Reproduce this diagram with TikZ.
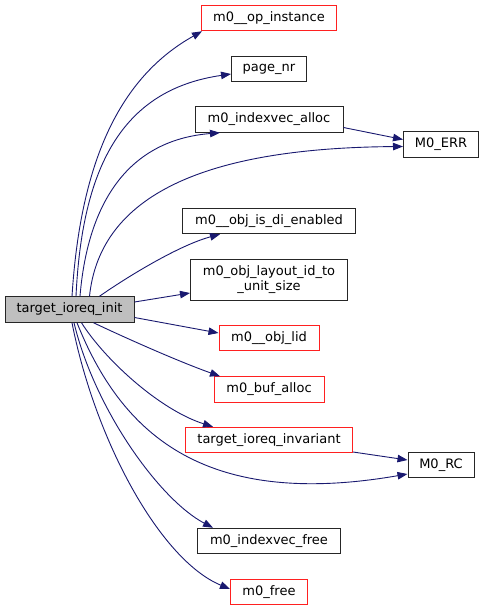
\documentclass[tikz,border=0pt]{standalone}
\usepackage{fontspec}
\setmainfont{DejaVu Sans}
\usepackage{xcolor}
\usetikzlibrary{arrows.meta}
\definecolor{edgeblue}{HTML}{191970}
\definecolor{boxgrey}{HTML}{BFBFBF}
\definecolor{boxred}{HTML}{FF2020}

\tikzset{
  fn/.style={draw=black!85, line width=1pt, fill=white, minimum height=25.5pt,
             inner sep=0pt, font=\fontsize{13}{15}\selectfont},
  fnred/.style={fn, draw=boxred},
  fnmain/.style={fn, fill=boxgrey},
  call/.style={draw=edgeblue, line width=0.9pt, -{Triangle[length=10pt,width=7.5pt]}},
}

\begin{document}
\begin{tikzpicture}[x=1pt, y=-1pt]
\useasboundingbox[fill=white] (0,0) rectangle (484,611);

% caller
\node[fnmain, minimum width=129pt] (main) at (69.5,309.5) {target\_ioreq\_init};

% callees
\node[fnred, minimum width=135pt] (opinst) at (269,18) {m0\_\_op\_instance};
\node[fn, minimum width=75pt] (pagenr) at (269,69) {page\_nr};
\node[fn, minimum width=148pt] (idxalloc) at (269,119.5) {m0\_indexvec\_alloc};
\node[fn, minimum width=75pt] (err) at (441,144.5) {M0\_ERR};
\node[fn, minimum width=173pt] (dienabled) at (269,221) {m0\_\_obj\_is\_di\_enabled};
\node[fn, minimum width=157pt, minimum height=40.5pt, align=center] (layout) at (269,280)
  {m0\_obj\_layout\_id\_to\\\_unit\_size};
\node[fnred, minimum width=100pt] (lid) at (269,338) {m0\_\_obj\_lid};
\node[fnred, minimum width=110pt] (bufalloc) at (269,389.5) {m0\_buf\_alloc};
\node[fnred, minimum width=167pt] (invariant) at (269,440) {target\_ioreq\_invariant};
\node[fn, minimum width=66pt] (rc) at (441,465) {M0\_RC};
\node[fn, minimum width=143pt] (idxfree) at (269,541) {m0\_indexvec\_free};
\node[fnred, minimum width=77pt] (free) at (269,592) {m0\_free};

% calls
\draw[call] ([xshift=2.5pt]main.north) .. controls (80,170) and (115,80) .. ([xshift=1pt]opinst.south west);
\draw[call] ([xshift=6.5pt]main.north) .. controls (82,170) and (120,90) .. ([yshift=-5pt]pagenr.west);
\draw[call] ([xshift=10.5pt]main.north) .. controls (88,200) and (130,140) .. ([xshift=-49pt]idxalloc.south);
\draw[call] ([xshift=20pt]main.north) .. controls (100,195) and (205,148) .. ([yshift=-2pt]err.west);
\draw[call] ([xshift=30pt]main.north) .. controls (130,275) and (180,245) .. ([xshift=-49pt]dienabled.south);
\draw[call] ([yshift=7.5pt]main.east) -- ([yshift=-13pt]layout.west);
\draw[call] ([yshift=-8pt]main.east) -- ([yshift=5pt]lid.west);
\draw[call] ([xshift=24pt]main.south) .. controls (130,340) and (180,362) .. ([xshift=-49pt]bufalloc.north);
\draw[call] ([xshift=12pt]main.south) .. controls (105,360) and (160,410) .. ([xshift=-56pt]invariant.north);
\draw[call] ([xshift=7.5pt]main.south) .. controls (120,430) and (200,510) .. ([yshift=-9pt]rc.west);
\draw[call] ([xshift=4.5pt]main.south) .. controls (95,410) and (160,500) .. ([xshift=-56pt]idxfree.north);
\draw[call] ([xshift=2.5pt]main.south) .. controls (95,440) and (160,560) .. ([yshift=3pt]free.west);
\draw[call] ([yshift=-8pt]idxalloc.east) -- ([yshift=5pt]err.west);
\draw[call] ([yshift=-12pt]invariant.east) -- ([yshift=5pt]rc.west);
\end{tikzpicture}
\end{document}
